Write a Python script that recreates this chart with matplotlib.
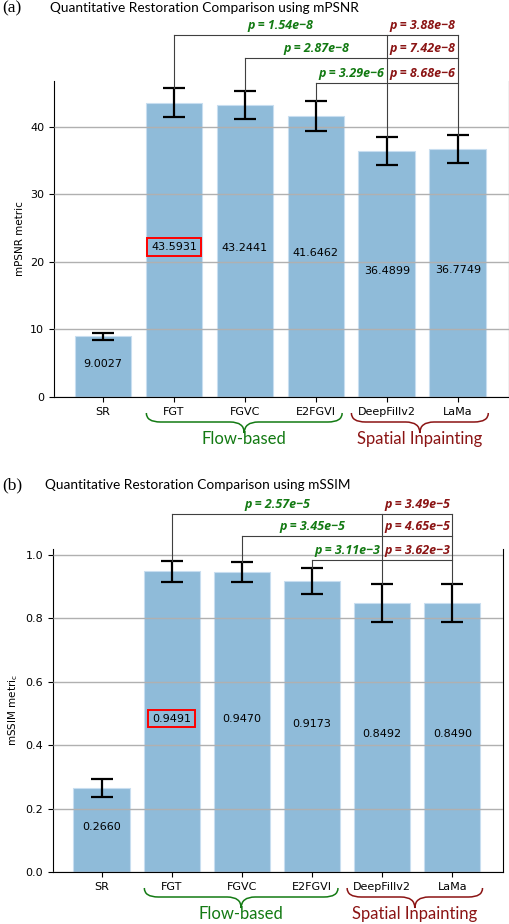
import numpy as np
import matplotlib
matplotlib.use('Agg')
import matplotlib.pyplot as plt
from matplotlib.path import Path
from matplotlib.patches import PathPatch
from matplotlib.transforms import blended_transform_factory

# data
methods = ['SR', 'FGT', 'FGVC', 'E2FGVI', 'DeepFillv2', 'LaMa']
psnr = [9.0027, 43.5931, 43.2441, 41.6462, 36.4899, 36.7749]
psnr_err = [0.5, 2.15, 2.07, 2.2, 2.08, 2.1]
ssim = [0.2660, 0.9491, 0.9470, 0.9173, 0.8492, 0.8490]
ssim_err = [0.028, 0.033, 0.032, 0.041, 0.059, 0.061]

# p-values: flow-based method vs DeepFillv2 (green) and vs LaMa (red)
psnr_p_deepfill = ['1.54e\u22128', '2.87e\u22128', '3.29e\u22126']
psnr_p_lama = ['3.88e\u22128', '7.42e\u22128', '8.68e\u22126']
ssim_p_deepfill = ['2.57e\u22125', '3.45e\u22125', '3.11e\u22123']
ssim_p_lama = ['3.49e\u22125', '4.65e\u22125', '3.62e\u22123']
psnr_levels = [53.6, 50.2, 46.5]
ssim_levels = [1.129, 1.060, 0.984]

GREEN = '#137a13'
RED = '#8b1414'
BAR = '#8fbbd9'
SANS = ['Lato', 'DejaVu Sans']

W, H, DPI = 510, 924, 100
fig = plt.figure(figsize=(W / DPI, H / DPI), dpi=DPI)


def px_axes(left, right, top, bottom):
    return fig.add_axes([left / W, 1 - bottom / H, (right - left) / W, (bottom - top) / H])


def brace(ax, x0, x1, color, label, ax_h_px):
    trans = blended_transform_factory(ax.transData, ax.transAxes)
    y_end, y_flat, y_tip = -16 / ax_h_px, -25 / ax_h_px, -36 / ax_h_px
    r = 0.2
    xm = (x0 + x1) / 2
    verts = [(x0, y_end), (x0, y_flat), (x0 + r, y_flat),
             (xm - r, y_flat), (xm, y_flat), (xm, y_tip),
             (xm, y_flat), (xm + r, y_flat),
             (x1 - r, y_flat), (x1, y_flat), (x1, y_end)]
    codes = [Path.MOVETO, Path.CURVE3, Path.CURVE3,
             Path.LINETO, Path.CURVE3, Path.CURVE3,
             Path.CURVE3, Path.CURVE3,
             Path.LINETO, Path.CURVE3, Path.CURVE3]
    patch = PathPatch(Path(verts, codes), transform=trans, fc='none', ec=color,
                      lw=1.1, clip_on=False)
    ax.add_patch(patch)
    ax.text(xm, -47 / ax_h_px, label, transform=trans, ha='center', va='baseline',
            color=color, fontsize=12, family=SANS)


def panel(ax, vals, errs, ylim, yticks, ylabel, pd, pl, levels, fmt, ax_h_px):
    x = np.arange(len(methods))
    ax.grid(axis='y', color='#b0b0b0', lw=1.0, zorder=3)
    ax.set_axisbelow(False)
    ax.bar(x, vals, width=0.8, color=BAR, edgecolor='#c8def0', lw=0.8, zorder=2)
    ax.errorbar(x, vals, yerr=errs, fmt='none', ecolor='black', elinewidth=1.6,
                capsize=8, capthick=1.6, zorder=4)
    ax.set_ylim(*ylim)
    ax.set_yticks(yticks)
    ax.set_xticks(x)
    ax.set_xticklabels(methods)
    ax.tick_params(labelsize=8)
    ax.set_ylabel(ylabel, fontsize=7.5)
    ax.spines['top'].set_visible(False)

    for i, v in enumerate(vals):
        kw = {}
        if i == 1:
            kw['bbox'] = dict(boxstyle='square,pad=0.35', fc='none', ec='red', lw=1.4)
        ax.text(i, v / 2, fmt.format(v), ha='center', va='baseline', fontsize=8,
                zorder=5, **kw)

    # significance brackets
    lk = dict(color='0.25', lw=0.8, clip_on=False, zorder=5)
    idf, ila = 4, 5
    for k in range(3):
        i = k + 1
        lev = levels[k]
        ax.plot([i, i], [vals[i] + errs[i], lev], **lk)
        ax.plot([i, ila], [lev, lev], **lk)
        tk = dict(ha='center', va='bottom', fontsize=9, fontweight='bold',
                  style='italic', family=['Open Sans', 'DejaVu Sans'],
                  textcoords='offset points', xytext=(0, 2), annotation_clip=False)
        ax.annotate('p = ' + pd[k], ((i + idf) / 2, lev), color=GREEN, **tk)
        ax.annotate('p = ' + pl[k], ((idf + ila) / 2, lev), color=RED, **tk)
    for j in (idf, ila):
        ax.plot([j, j], [vals[j] + errs[j], levels[0]], **lk)

    brace(ax, 0.61, 3.37, GREEN, 'Flow-based', ax_h_px)
    brace(ax, 3.5, 5.43, RED, 'Spatial Inpainting', ax_h_px)


ax1 = px_axes(54, 509, 81, 397)
panel(ax1, psnr, psnr_err, (0, 46.8), [0, 10, 20, 30, 40], 'mPSNR metric',
      psnr_p_deepfill, psnr_p_lama, psnr_levels, '{:.4f}', 316)

ax2 = px_axes(53, 503, 549, 872)
panel(ax2, ssim, ssim_err, (0, 1.019), [0.0, 0.2, 0.4, 0.6, 0.8, 1.0],
      'mSSIM metri$_\\mathregular{c}$', ssim_p_deepfill, ssim_p_lama, ssim_levels,
      '{:.4f}', 323)

# panel labels and titles
fig.text(2 / W, 1 - 8 / H, '(a)', family='Liberation Serif', fontsize=12.5,
         ha='left', va='center')
fig.text(50 / W, 1 - 8 / H, 'Quantitative Restoration Comparison using mPSNR',
         family=SANS, fontsize=9.8, ha='left', va='center')
fig.text(2 / W, 1 - 485 / H, '(b)', family='Liberation Serif', fontsize=12.5,
         ha='left', va='center')
fig.text(45 / W, 1 - 485 / H, 'Quantitative Restoration Comparison using mSSIM',
         family=SANS, fontsize=9.8, ha='left', va='center')

fig.savefig('out.png', dpi=DPI)
